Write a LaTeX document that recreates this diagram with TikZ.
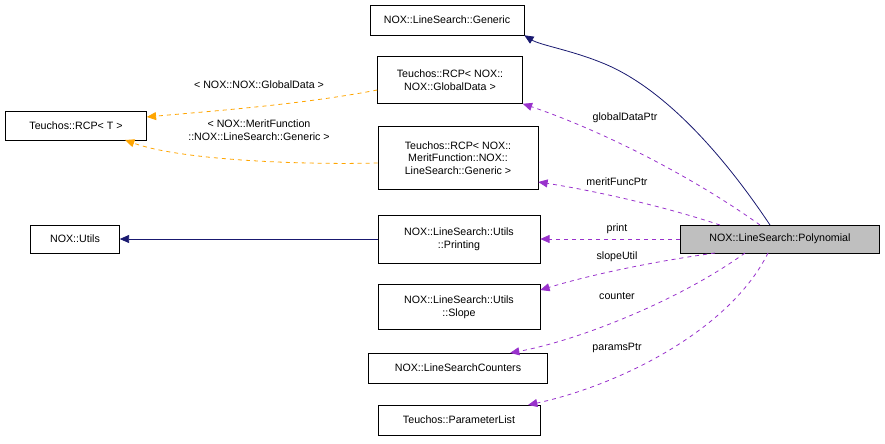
\documentclass[tikz,border=0pt]{standalone}
\usepackage{fontspec}
\setmainfont{Liberation Sans}
\usetikzlibrary{arrows.meta}
\definecolor{navyc}{RGB}{25,25,112}
\definecolor{purp}{RGB}{153,50,204}
\definecolor{orng}{RGB}{255,165,0}
\begin{document}
\begin{tikzpicture}[x=0.75pt,y=-0.75pt,
  box/.style={draw,fill=white,align=center,font=\fontsize{8}{9.5}\selectfont,inner sep=0pt},
  lab/.style={font=\fontsize{8}{9.5}\selectfont,align=center},
  inh/.style={draw=navyc,line width=0.6pt,-{Triangle[length=7pt,width=6pt,fill=navyc]}},
  mem/.style={draw=purp,line width=0.6pt,dashed,-{Triangle[length=7pt,width=6pt,fill=purp]}},
  tpl/.style={draw=orng,line width=0.6pt,dashed,-{Triangle[length=7pt,width=6pt,fill=orng]}}]
\useasboundingbox (0,0) rectangle (885,443);
\node[box,minimum width=154*0.75pt,minimum height=30*0.75pt] (gen) at (447,20) {NOX::LineSearch::Generic};
\node[box,minimum width=145*0.75pt,minimum height=47*0.75pt] (gd) at (450,80) {Teuchos::RCP< NOX::\\NOX::GlobalData >};
\node[box,minimum width=141*0.75pt,minimum height=29*0.75pt] (rcp) at (76,126) {Teuchos::RCP< T >};
\node[box,minimum width=160*0.75pt,minimum height=63*0.75pt] (mf) at (458,158) {Teuchos::RCP< NOX::\\MeritFunction::NOX::\\LineSearch::Generic >};
\node[box,minimum width=89*0.75pt,minimum height=28*0.75pt] (ut) at (75,239) {NOX::Utils};
\node[box,minimum width=162*0.75pt,minimum height=48*0.75pt] (pr) at (459,239) {NOX::LineSearch::Utils\\::Printing};
\node[box,fill={rgb,255:red,191;green,191;blue,191},minimum width=199*0.75pt,minimum height=28*0.75pt] (poly) at (780,239) {NOX::LineSearch::Polynomial};
\node[box,minimum width=162*0.75pt,minimum height=45*0.75pt] (sl) at (459,307) {NOX::LineSearch::Utils\\::Slope};
\node[box,minimum width=179*0.75pt,minimum height=30*0.75pt] (lc) at (458,368) {NOX::LineSearchCounters};
\node[box,minimum width=162*0.75pt,minimum height=30*0.75pt] (pl) at (459,420) {Teuchos::ParameterList};
\coordinate (p1) at (770,225);
\draw[inh] (p1) .. controls (720,150) and (660,85) .. (600,62) .. controls (570,50) and (540,45) .. (gen.south east);
\draw[inh] (pr.west) -- (ut.east);
\draw[mem] (760,225) .. controls (690,175) and (600,130) .. (gd.south east);
\node[lab] (l1) at (625,118) {globalDataPtr};
\draw[mem] (720,225) .. controls (660,205) and (590,190) .. (mf.south east |- 0,182);
\node[lab] (l2) at (617,182) {meritFuncPtr};
\draw[mem] (poly.west) -- (pr.east);
\node[lab] (l3) at (617,229) {print};
\draw[mem] (715,253) .. controls (650,262) and (590,275) .. (sl.east |- 0,290);
\node[lab] (l4) at (617,257) {slopeUtil};
\draw[mem] (745,253) .. controls (680,300) and (580,340) .. (510,353);
\node[lab] (l5) at (617,296) {counter};
\draw[mem] (768,253) .. controls (730,330) and (620,385) .. (528,405);
\node[lab] (l6) at (617,348) {paramsPtr};
\draw[tpl] (gd.west |- 0,90) .. controls (300,105) and (200,112) .. (rcp.east |- 0,117);
\node[lab] (l7) at (259,85) {< NOX::NOX::GlobalData >};
\draw[tpl] (mf.west |- 0,163) .. controls (300,165) and (180,160) .. (125,140);
\node[lab] (l8) at (259,130) {< NOX::MeritFunction\\::NOX::LineSearch::Generic >};
\end{tikzpicture}
\end{document}
